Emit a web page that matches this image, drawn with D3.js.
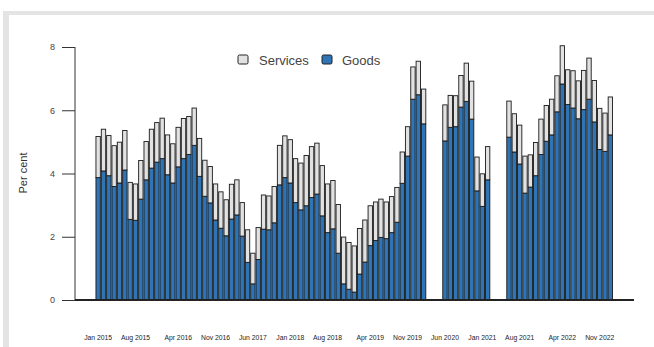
<!DOCTYPE html>
<html><head><meta charset="utf-8">
<script src="https://cdn.jsdelivr.net/npm/d3@7"></script>
<style>body{margin:0;background:#fff}svg{display:block;font-family:"Liberation Sans",Arial,sans-serif}</style>
</head><body>
<svg id="c" width="654" height="347"></svg>
<script>
// Monthly categories Jan 2015 .. Jan 2023
const months = d3.timeMonths(new Date(2015,0,1), new Date(2023,1,1));
const goods = [3.87,4.08,3.93,3.59,3.70,4.11,2.55,2.52,3.19,3.80,4.17,4.36,
4.47,3.96,3.70,4.21,4.47,4.60,4.89,3.91,3.28,3.07,2.53,2.27,
2.03,2.56,2.69,2.02,1.19,0.51,1.28,2.24,2.22,2.44,3.64,3.87,
3.70,3.08,2.85,2.98,3.24,3.35,2.66,2.13,2.25,1.48,0.51,0.34,
0.25,0.82,1.20,1.72,1.88,1.98,1.94,2.13,2.46,3.69,4.55,6.35,
6.49,5.57,null,null,null,5.03,5.46,5.48,6.10,6.28,5.72,3.45,
2.96,3.80,null,null,null,5.15,4.68,4.30,3.38,3.57,3.93,4.60,
5.02,5.22,5.95,6.83,6.18,6.07,5.73,6.02,6.35,5.63,4.76,4.70,
5.22];
const services = [1.30,1.32,1.27,1.29,1.29,1.25,1.17,1.15,1.22,1.21,1.23,1.25,
1.28,1.26,1.24,1.25,1.27,1.20,1.18,1.20,1.14,1.15,1.14,1.15,
1.14,1.10,1.11,1.06,1.03,0.97,1.01,1.08,1.07,1.15,1.25,1.32,
1.37,1.39,1.48,1.59,1.61,1.61,1.59,1.54,1.53,1.54,1.48,1.48,
1.46,1.44,1.33,1.26,1.22,1.21,1.16,1.14,1.10,0.99,0.93,1.02,
1.06,1.10,null,null,null,1.14,1.01,0.98,1.00,1.21,1.20,1.07,
1.03,1.05,null,null,null,1.14,1.21,1.23,1.17,1.02,1.05,1.12,
1.13,1.13,1.14,1.21,1.10,1.18,1.20,1.24,1.30,1.31,1.30,1.21,
1.20];
const tickLabels = ["Jan 2015","Aug 2015","Apr 2016","Nov 2016","Jun 2017","Jan 2018","Aug 2018",
"Apr 2019","Nov 2019","Jun 2020","Jan 2021","Aug 2021","Apr 2022","Nov 2022"];
const yTicks = [0,2,4,6,8];
const seriesNames = ["Services","Goods"];
const colors = {Goods:"#2f74b5", Services:"#e2e2e2"};

const fmt = d3.timeFormat("%b %Y");
const labels = months.map(fmt);
const svg = d3.select("#c");

// frame
svg.append("rect").attr("x",3).attr("y",11).attr("width",651).attr("height",4).attr("fill","#e4e4e4");
svg.append("rect").attr("x",3).attr("y",11).attr("width",6).attr("height",336).attr("fill","#e4e4e4");

const x = d3.scaleBand().domain(labels).range([95,613.5]).padding(0.18);
const y = d3.scaleLinear().domain([0,8]).range([300,47]);

const data = labels.map((m,i)=>({m, g:goods[i], s:services[i]})).filter(d=>d.g!=null);

const bars = svg.append("g");
bars.selectAll("rect.g").data(data).join("rect")
  .attr("x",d=>x(d.m)).attr("width",x.bandwidth())
  .attr("y",d=>y(d.g)).attr("height",d=>y(0)-y(d.g))
  .attr("fill",colors.Goods).attr("stroke","#1a1a1a").attr("stroke-width",0.9);
bars.selectAll("rect.s").data(data).join("rect")
  .attr("x",d=>x(d.m)).attr("width",x.bandwidth())
  .attr("y",d=>y(d.g+d.s)).attr("height",d=>y(d.g)-y(d.g+d.s))
  .attr("fill",colors.Services).attr("stroke","#1a1a1a").attr("stroke-width",0.9);

// y axis
const ya = svg.append("g").attr("transform","translate(75,0)")
  .call(d3.axisLeft(y).tickValues(yTicks).tickSize(13).tickPadding(7).tickFormat(d3.format("d")));
ya.select(".domain").attr("stroke","#333").attr("d","M0,47V300");
ya.selectAll(".tick line").attr("stroke","#333");
ya.selectAll("text").attr("font-size",9).attr("fill","#444").attr("font-family","Liberation Sans, Arial");

// baseline
svg.append("line").attr("x1",75).attr("x2",634).attr("y1",y(0)).attr("y2",y(0))
  .attr("stroke","#222").attr("stroke-width",2);

// x labels
const xa = svg.append("g").attr("transform","translate(0,300)")
  .call(d3.axisBottom(x).tickValues(tickLabels).tickSize(0).tickPadding(35));
xa.select(".domain").remove();
xa.selectAll("text").attr("font-size",6.8).attr("fill","#222").attr("font-family","Liberation Sans, Arial");

// y label
svg.append("text").attr("transform","translate(27,173) rotate(-90)")
  .attr("text-anchor","middle").attr("font-size",11).attr("fill","#333").text("Per cent");

// legend
const leg = [{n:seriesNames[0],bx:238,tx:259},{n:seriesNames[1],bx:322,tx:342}];
leg.forEach(l=>{
  svg.append("rect").attr("x",l.bx).attr("y",55).attr("width",10).attr("height",9).attr("rx",1.5)
    .attr("fill",colors[l.n]).attr("stroke","#222").attr("stroke-width",1);
  svg.append("text").attr("x",l.tx).attr("y",64.5).attr("font-size",13).attr("fill","#444").text(l.n);
});
</script>
</body></html>
